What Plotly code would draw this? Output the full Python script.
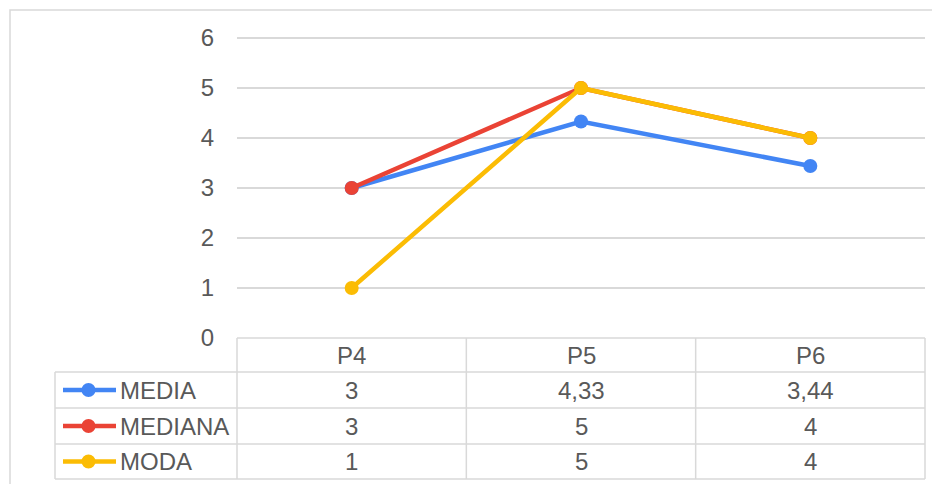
import plotly.graph_objects as go

categories = ["P4", "P5", "P6"]
series_names = ["MEDIA", "MEDIANA", "MODA"]
media = [3, 4.33, 3.44]
mediana = [3, 5, 4]
moda = [1, 5, 4]
series_values = [media, mediana, moda]
colors = ["#4285F4", "#EA4335", "#FBBC04"]
y_ticks = [0, 1, 2, 3, 4, 5, 6]

W, H = 940, 484
OFF = 8  # page body margin
def fx(x):
    return (x - OFF) / W
def fy(y):
    return 1 - (y - OFF) / H

GRID = "#d9d9d9"
TXT = "#595959"
FONT = "Liberation Sans, Arial, sans-serif"
FS = 24

plot_left, plot_right = 237, 925
plot_top, plot_bottom = 38, 338
row_edges = [338, 372, 408, 444, 479]
legend_left = 55

fig = go.Figure()
for name, vals, col in zip(series_names, series_values, colors):
    fig.add_trace(go.Scatter(
        x=list(range(len(categories))), y=vals, mode="lines+markers", name=name,
        line=dict(color=col, width=4.5), marker=dict(color=col, size=14),
        showlegend=False, cliponaxis=False))

shapes = []
def hline(y, x0, x1):
    shapes.append(dict(type="line", xref="paper", yref="paper", x0=fx(x0), x1=fx(x1),
                       y0=fy(y), y1=fy(y), line=dict(color=GRID, width=1.5)))
def vline(x, y0, y1):
    shapes.append(dict(type="line", xref="paper", yref="paper", x0=fx(x), x1=fx(x),
                       y0=fy(y0), y1=fy(y1), line=dict(color=GRID, width=1.5)))

# outer chart frame
shapes.append(dict(type="rect", xref="paper", yref="paper", x0=fx(10), x1=fx(980),
                   y0=fy(10), y1=fy(520), line=dict(color=GRID, width=1.5), layer="below"))
# table
hline(row_edges[0], plot_left, plot_right)
for y in row_edges[1:]:
    hline(y, legend_left, plot_right)
vline(legend_left, row_edges[1], row_edges[-1])
col_w = (plot_right - plot_left) / len(categories)
for i in range(len(categories) + 1):
    vline(plot_left + i * col_w, row_edges[0], row_edges[-1])

annotations = []
for i, c in enumerate(categories):
    annotations.append(dict(x=i, xref="x", y=fy((row_edges[0] + row_edges[1]) / 2), yref="paper",
                            text=c, showarrow=False, xanchor="center", yanchor="middle",
                            font=dict(family=FONT, size=FS, color=TXT)))

def fmt(v):
    return (f"{v:g}").replace(".", ",")

for r, (name, vals, col) in enumerate(zip(series_names, series_values, colors)):
    yc = (row_edges[r + 1] + row_edges[r + 2]) / 2
    shapes.append(dict(type="line", xref="paper", yref="paper", x0=fx(63), x1=fx(116),
                       y0=fy(yc), y1=fy(yc), line=dict(color=col, width=4.5)))
    shapes.append(dict(type="circle", xref="paper", yref="paper", x0=fx(81.5), x1=fx(95.5),
                       y0=fy(yc - 7), y1=fy(yc + 7), fillcolor=col, line=dict(width=0)))
    annotations.append(dict(x=fx(118), xref="paper", y=fy(yc), yref="paper", text=name,
                            showarrow=False, xanchor="left", yanchor="middle",
                            font=dict(family=FONT, size=FS, color=TXT)))
    for i, v in enumerate(vals):
        annotations.append(dict(x=i, xref="x", y=fy(yc), yref="paper", text=fmt(v),
                                showarrow=False, xanchor="center", yanchor="middle",
                                font=dict(family=FONT, size=FS, color=TXT)))

ytop = 6.04
fig.update_layout(
    width=W, height=H, margin=dict(l=0, r=0, t=0, b=0, pad=0, autoexpand=False),
    paper_bgcolor="white", plot_bgcolor="white",
    xaxis=dict(domain=[fx(plot_left), fx(plot_right)], range=[-0.5, len(categories) - 0.5],
               showticklabels=False, showgrid=False, zeroline=False, showline=False,
               anchor="y", automargin=False),
    yaxis=dict(domain=[fy(plot_bottom), fy(plot_top - (ytop - 6) * 50)], range=[0, ytop],
               tickvals=y_ticks, automargin=False,
               showgrid=True, gridcolor=GRID, gridwidth=1.5, zeroline=False, showline=False,
               ticks="outside", ticklen=0, ticklabelstandoff=17,
               tickfont=dict(family=FONT, size=FS, color=TXT)),
    shapes=shapes, annotations=annotations,
)
fig.write_html("out.html")
